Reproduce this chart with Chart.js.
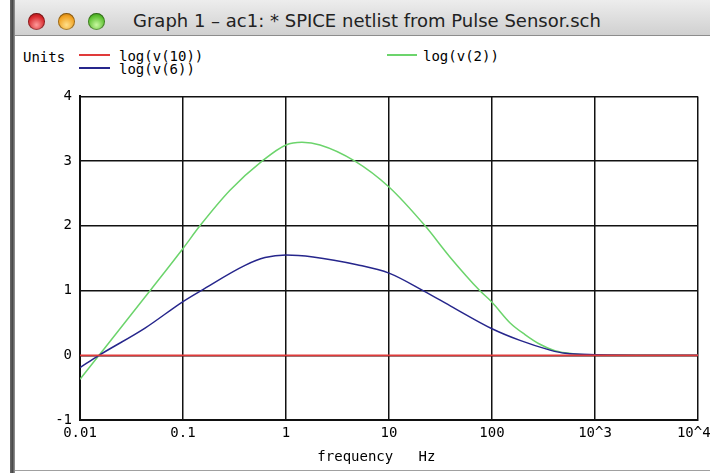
<!DOCTYPE html>
<html>
<head>
<meta charset="utf-8">
<script src="https://cdn.jsdelivr.net/npm/chart.js@4.4.1/dist/chart.umd.min.js"></script>
<style>
  body { margin: 0; width: 710px; height: 473px; overflow: hidden; background: #fff; position: relative; font-family: "DejaVu Sans Mono", monospace; }
  #leftbar { position: absolute; left: 10px; top: 0; width: 5px; height: 473px; background: linear-gradient(to right, #6a6a6a, #4a4a4a, #9a9a9a); }
  #titlebar { position: absolute; left: 15px; top: 0; width: 695px; height: 35px; background: linear-gradient(#ededed, #d0d0d0); border-bottom: 1px solid #8c8c8c; }
  .btn { position: absolute; top: 13px; width: 17px; height: 17px; border-radius: 50%; box-shadow: inset 0 0 0 1px rgba(0,0,0,0.35); }
  #b1 { left: 13px; background: radial-gradient(circle at 50% 70%, #ff9a9a, #d6262a 60%, #8a1010); }
  #b2 { left: 43px; background: radial-gradient(circle at 50% 70%, #ffe08a, #f0a020 60%, #a06008); }
  #b3 { left: 73px; background: radial-gradient(circle at 50% 70%, #c8f8a0, #5cc030 60%, #2a7a10); }
  #title { position: absolute; left: 118px; top: 10px; font-family: "DejaVu Sans", sans-serif; font-size: 18px; color: #222; white-space: nowrap; }
  #legend { position: absolute; left: 0; top: 0; font-size: 14px; color: #000; }
  .lg { position: absolute; white-space: nowrap; line-height: 14px; }
  .sw { position: absolute; height: 2px; }
  #bottomline { position: absolute; left: 15px; top: 470px; width: 695px; height: 1px; background: #a0a0a0; }
  #chartBox { position: absolute; left: 15px; top: 80px; width: 695px; height: 393px; }
</style>
</head>
<body>
<div id="leftbar"></div>
<div id="titlebar">
  <div class="btn" id="b1"></div>
  <div class="btn" id="b2"></div>
  <div class="btn" id="b3"></div>
  <div id="title">Graph 1 – ac1: * SPICE netlist from Pulse Sensor.sch</div>
</div>
<div id="legend"></div>
<div id="chartBox"><canvas id="graph" width="695" height="393"></canvas></div>
<div id="bottomline"></div>
<script>
// frequency (Hz) and log(v) readings for each trace
const freqV10 = [0.01, 10000];
const logV10 = [0, 0];

const freqV6 = [0.01, 0.0153, 0.0428, 0.1, 0.15, 0.4, 0.625, 1, 1.83, 4.89, 10, 21.4, 41.8, 100, 187, 366, 513, 1000, 10000];
const logV6 = [-0.19, 0, 0.42, 0.83, 1.0, 1.39, 1.51, 1.55, 1.52, 1.40, 1.27, 1.0, 0.74, 0.41, 0.23, 0.08, 0.03, 0.01, 0];

const freqV2 = [0.01, 0.0153, 0.048, 0.1, 0.146, 0.286, 0.585, 1, 1.43, 2.14, 4.67, 10, 22.4, 39, 76, 100, 150, 209, 292, 408, 640, 1000, 10000];
const logV2 = [-0.37, 0, 1.0, 1.65, 2.0, 2.55, 3.0, 3.25, 3.29, 3.25, 3.0, 2.6, 2.0, 1.52, 1.0, 0.82, 0.5, 0.32, 0.17, 0.07, 0.02, 0.005, 0];

const seriesNames = ["log(v(10))", "log(v(6))", "log(v(2))"];
const seriesColors = ["#e03a3a", "#26268c", "#6cd46c"];

const xTickValues = [0.01, 0.1, 1, 10, 100, 1000, 10000];
const xTickLabels = ["0.01", "0.1", "1", "10", "100", "10^3", "10^4 "];
const yTickValues = [-1, 0, 1, 2, 3, 4];

function toPoints(xs, ys) {
  return xs.map((x, i) => ({ x: x, y: ys[i] }));
}

function buildLegend() {
  const legend = document.getElementById("legend");
  const spots = [
    { sx: 79, sy: 54, tx: 119, ty: 49 },
    { sx: 79, sy: 67, tx: 119, ty: 62 },
    { sx: 387, sy: 54, tx: 423, ty: 49 }
  ];
  let html = `<div class="lg" style="left:23px;top:50px">Units</div>`;
  seriesNames.forEach((name, i) => {
    const s = spots[i];
    const w = i === 2 ? 30 : 31;
    html += `<div class="sw" style="left:${s.sx}px;top:${s.sy}px;width:${w}px;height:1.5px;background:${seriesColors[i]}"></div>`;
    html += `<div class="lg" style="left:${s.tx}px;top:${s.ty}px">${name}</div>`;
  });
  legend.innerHTML = html;
}

function drawChart() {
  const ctx = document.getElementById("graph").getContext("2d");
  const tickFont = { family: "DejaVu Sans Mono", size: 14 };

  new Chart(ctx, {
    type: "line",
    data: {
      datasets: [
        { label: seriesNames[0], data: toPoints(freqV10, logV10), borderColor: seriesColors[0], borderWidth: 1.8 },
        { label: seriesNames[1], data: toPoints(freqV6, logV6), borderColor: seriesColors[1], borderWidth: 1.5 },
        { label: seriesNames[2], data: toPoints(freqV2, logV2), borderColor: seriesColors[2], borderWidth: 1.5 }
      ]
    },
    options: {
      responsive: false,
      animation: false,
      devicePixelRatio: 1,
      elements: {
        point: { radius: 0 },
        line: { tension: 0.4, cubicInterpolationMode: "monotone", fill: false }
      },
      layout: { padding: { top: 15, right: 12, left: 0, bottom: 0 } },
      plugins: {
        legend: { display: false },
        tooltip: { enabled: false }
      },
      scales: {
        x: {
          type: "logarithmic",
          min: 0.01,
          max: 10000,
          afterBuildTicks: scale => {
            scale.ticks = xTickValues.map(v => ({ value: v }));
          },
          afterFit: scale => {
            scale.height = 53;
            scale.paddingLeft = 0;
            scale.paddingRight = 0;
          },
          ticks: {
            autoSkip: false,
            maxRotation: 0,
            padding: 5,
            color: "#000",
            font: tickFont,
            callback: function (value) {
              const i = xTickValues.indexOf(value);
              return i >= 0 ? xTickLabels[i] : "";
            }
          },
          grid: { color: "#111", lineWidth: 1.5, drawTicks: false },
          border: { color: "#111", width: 2 },
          title: {
            display: true,
            text: "frequency   Hz   ",
            color: "#000",
            font: tickFont,
            padding: { top: 0, bottom: 7 }
          }
        },
        y: {
          min: -1,
          max: 4,
          afterBuildTicks: scale => {
            scale.ticks = yTickValues.map(v => ({ value: v }));
          },
          afterFit: scale => {
            scale.width = 65;
          },
          ticks: {
            padding: 8,
            color: "#000",
            font: tickFont
          },
          grid: { color: "#111", lineWidth: 1.5, drawTicks: false },
          border: { color: "#111", width: 2 }
        }
      }
    }
  });
}

document.addEventListener("DOMContentLoaded", () => {
  buildLegend();
  drawChart();
});
</script>
</body>
</html>
